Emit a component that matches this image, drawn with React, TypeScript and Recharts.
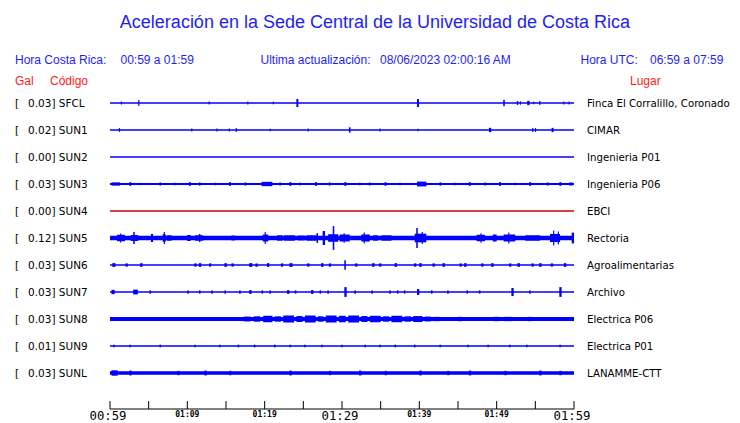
import { ComposedChart, Line, ReferenceArea, XAxis, YAxis } from 'recharts'

// ─── Datos ────────────────────────────────────────────────────────────────────

const STATIONS = ['SFCL', 'SUN1', 'SUN2', 'SUN3', 'SUN4', 'SUN5', 'SUN6', 'SUN7', 'SUN8', 'SUN9', 'SUNL']
const GAL = ['0.03', '0.02', '0.00', '0.03', '0.00', '0.12', '0.03', '0.03', '0.03', '0.01', '0.03']
const PLACES = [
  'Finca El Corralillo, Coronado',
  'CIMAR',
  'Ingenieria P01',
  'Ingenieria P06',
  'EBCI',
  'Rectoria',
  'Agroalimentarias',
  'Archivo',
  'Electrica P06',
  'Electrica P01',
  'LANAMME-CTT',
]

// minutos desde 00:59
const TICK_MINUTES = [0, 5, 10, 15, 20, 25, 30, 35, 40, 45, 50, 55, 60]
const LABEL_MINUTES = [0, 10, 20, 30, 40, 50, 60]
const LABEL_TEXT = ['00:59', '01:09', '01:19', '01:29', '01:39', '01:49', '01:59']
const MAJOR_LABELS = ['00:59', '01:29', '01:59']

// ráfagas: [inicio (min), fin (min), amplitud (filas)]
type Burst = [number, number, number]

const SFCL_BURSTS: Burst[] = [
  [1.4, 1.55, 0.06], [3.65, 3.8, 0.11], [12.75, 12.9, 0.06], [17.75, 17.9, 0.06], [21.05, 21.2, 0.05],
  [24.1, 24.35, 0.15], [39.7, 39.95, 0.15], [50.85, 51.05, 0.12], [52.6, 52.8, 0.07], [53.0, 53.15, 0.06],
  [53.95, 54.25, 0.08], [54.7, 54.85, 0.05], [55.5, 55.65, 0.07], [58.6, 58.75, 0.06], [59.3, 59.45, 0.06],
]
const SUN1_BURSTS: Burst[] = [
  [1.15, 1.3, 0.07], [10.5, 10.65, 0.06], [13.75, 13.9, 0.06], [15.35, 15.5, 0.06], [16.25, 16.4, 0.07],
  [20.65, 20.8, 0.05], [25.55, 25.7, 0.06], [30.9, 31.1, 0.1], [34.85, 35.0, 0.06], [39.75, 39.9, 0.05],
  [49.0, 49.3, 0.08], [54.6, 54.75, 0.07], [54.95, 55.1, 0.07], [57.1, 57.35, 0.08],
]
const SUN2_BURSTS: Burst[] = []
const SUN3_BURSTS: Burst[] = [
  [0.2, 1.3, 0.06], [2.5, 2.75, 0.07], [3.85, 4.0, 0.05], [6.4, 6.6, 0.06], [8.3, 8.5, 0.05],
  [10.2, 10.45, 0.07], [11.5, 11.7, 0.06], [13.5, 13.7, 0.05], [15.4, 15.65, 0.07], [17.4, 17.6, 0.06],
  [19.6, 21.0, 0.08], [21.9, 22.1, 0.06], [23.2, 23.45, 0.07], [24.5, 24.7, 0.05], [26.5, 26.75, 0.07],
  [28.3, 28.5, 0.06], [30.3, 30.55, 0.07], [32.2, 32.4, 0.05], [33.5, 33.7, 0.06], [35.5, 35.75, 0.07],
  [37.4, 37.6, 0.05], [39.7, 40.9, 0.09], [42.6, 42.85, 0.06], [44.5, 44.7, 0.05], [46.4, 46.65, 0.07],
  [48.4, 48.6, 0.06], [50.3, 50.55, 0.07], [52.3, 52.5, 0.05], [54.2, 54.45, 0.07], [56.5, 56.7, 0.06],
  [58.1, 58.35, 0.07], [59.4, 59.8, 0.06],
]
const SUN4_BURSTS: Burst[] = []
const SUN5_BURSTS: Burst[] = [
  [0.9, 1.94, 0.12], [1.3, 1.45, 0.17], [2.68, 3.66, 0.11], [3.0, 3.2, 0.22], [5.3, 5.56, 0.15],
  [6.81, 7.2, 0.14], [6.95, 7.1, 0.22], [7.33, 7.98, 0.1], [9.96, 10.43, 0.11], [10.99, 12.06, 0.1],
  [11.5, 11.7, 0.15], [12.4, 12.6, 0.07], [15.7, 16.16, 0.09], [17.1, 17.3, 0.06], [19.74, 20.47, 0.13],
  [20.0, 20.15, 0.22], [21.0, 21.2, 0.07], [21.6, 22.33, 0.1], [22.5, 23.9, 0.1], [24.3, 25.2, 0.09],
  [25.4, 26.7, 0.1], [26.7, 26.9, 0.18], [27.5, 27.8, 0.26], [28.2, 29.5, 0.14], [28.8, 29.0, 0.44],
  [29.7, 31.0, 0.13], [30.2, 30.35, 0.18], [32.5, 33.6, 0.13], [32.8, 32.95, 0.2], [34.0, 34.65, 0.1],
  [35.1, 36.4, 0.1], [37.7, 37.9, 0.07], [38.4, 38.8, 0.075], [39.4, 40.9, 0.16], [39.6, 39.8, 0.37],
  [40.3, 40.45, 0.22], [46.1, 46.5, 0.075], [47.4, 48.5, 0.12], [47.9, 48.05, 0.18], [49.5, 50.0, 0.13],
  [50.9, 52.4, 0.13], [51.5, 51.65, 0.2], [53.7, 55.6, 0.1], [56.9, 58.2, 0.15], [57.3, 57.45, 0.28],
  [57.9, 58.05, 0.24], [59.7, 60.0, 0.2],
]
const SUN6_BURSTS: Burst[] = [
  [0.3, 0.7, 0.07], [2.0, 2.3, 0.06], [3.9, 4.2, 0.07], [10.9, 11.2, 0.06], [11.5, 11.8, 0.07],
  [12.8, 13.1, 0.06], [14.8, 15.1, 0.07], [15.7, 16.0, 0.06], [18.0, 18.4, 0.07], [18.8, 19.1, 0.06],
  [20.3, 20.6, 0.07], [22.1, 22.4, 0.06], [23.2, 23.6, 0.07], [25.5, 25.8, 0.06], [27.3, 27.6, 0.07],
  [28.3, 28.6, 0.06], [30.3, 30.5, 0.18], [31.7, 32.0, 0.06], [33.9, 34.2, 0.07], [34.8, 35.1, 0.06],
  [36.8, 37.1, 0.07], [39.3, 39.6, 0.06], [40.0, 40.3, 0.07], [41.7, 42.0, 0.06], [43.0, 43.3, 0.07],
  [45.2, 45.5, 0.06], [45.8, 46.1, 0.07], [48.0, 48.3, 0.06], [49.3, 49.6, 0.07], [51.6, 51.9, 0.06],
  [52.7, 53.0, 0.07], [54.5, 54.8, 0.06], [55.5, 55.8, 0.07], [57.0, 57.3, 0.06], [58.7, 59.0, 0.07],
]
const SUN7_BURSTS: Burst[] = [
  [0.2, 0.6, 0.08], [3.0, 3.6, 0.09], [5.1, 5.3, 0.06], [10.0, 10.2, 0.06], [11.5, 11.7, 0.06],
  [13.1, 13.3, 0.06], [14.8, 15.0, 0.06], [16.7, 16.9, 0.06], [18.0, 18.3, 0.07], [19.6, 19.8, 0.06],
  [20.6, 20.8, 0.06], [22.9, 23.2, 0.07], [23.9, 24.1, 0.06], [26.0, 26.3, 0.07], [27.1, 27.3, 0.06],
  [28.1, 28.3, 0.06], [30.3, 30.6, 0.18], [31.6, 31.8, 0.06], [33.8, 34.0, 0.06], [36.1, 36.3, 0.06],
  [37.1, 37.3, 0.06], [38.0, 38.2, 0.06], [39.7, 40.0, 0.11], [41.5, 41.7, 0.06], [43.6, 43.8, 0.06],
  [46.1, 46.3, 0.06], [47.7, 47.9, 0.06], [51.9, 52.2, 0.15], [54.2, 54.4, 0.06], [58.1, 58.4, 0.18],
]
const SUN8_BURSTS: Burst[] = [
  [17.3, 18.2, 0.09], [18.6, 19.4, 0.1], [19.8, 21.0, 0.12], [21.3, 22.1, 0.1], [22.4, 23.8, 0.13],
  [24.1, 24.9, 0.11], [25.2, 26.6, 0.13], [26.9, 27.6, 0.1], [27.9, 29.3, 0.13], [29.6, 30.5, 0.12],
  [30.8, 32.2, 0.13], [32.5, 33.3, 0.11], [33.6, 35.0, 0.12], [35.3, 36.1, 0.1], [36.4, 37.8, 0.12],
  [38.1, 38.9, 0.1], [39.2, 40.4, 0.11], [40.7, 41.5, 0.09], [41.8, 42.7, 0.08], [45.0, 45.6, 0.08],
  [49.6, 50.3, 0.08], [51.0, 52.0, 0.08], [54.0, 54.6, 0.08],
]
const SUN9_BURSTS: Burst[] = [
  [0.4, 0.6, 0.05], [2.5, 2.7, 0.05], [6.4, 6.6, 0.05], [10.9, 11.1, 0.05], [14.1, 14.3, 0.05],
  [16.5, 16.7, 0.05], [18.6, 18.8, 0.05], [21.2, 21.4, 0.05], [23.2, 23.4, 0.05], [25.1, 25.3, 0.05],
  [27.3, 27.5, 0.05], [29.9, 30.1, 0.05], [32.9, 33.1, 0.05], [34.8, 35.0, 0.05], [36.8, 37.0, 0.05],
  [39.3, 39.5, 0.05], [42.6, 42.8, 0.05], [46.2, 46.4, 0.05], [48.8, 49.0, 0.05], [51.6, 51.8, 0.05],
  [53.8, 54.0, 0.05], [58.1, 58.3, 0.05],
]
const SUNL_BURSTS: Burst[] = [
  [0.2, 1.0, 0.1], [2.5, 2.8, 0.09], [8.7, 9.0, 0.08], [12.2, 12.5, 0.09], [15.4, 15.7, 0.08],
  [23.2, 23.5, 0.09], [28.3, 28.6, 0.08], [32.2, 32.5, 0.09], [35.5, 35.8, 0.08], [40.0, 40.3, 0.09],
  [43.6, 43.9, 0.08], [46.4, 46.7, 0.09], [51.0, 51.3, 0.08], [55.5, 55.8, 0.09], [58.1, 58.4, 0.08],
]

const BURSTS = [
  SFCL_BURSTS, SUN1_BURSTS, SUN2_BURSTS, SUN3_BURSTS, SUN4_BURSTS, SUN5_BURSTS,
  SUN6_BURSTS, SUN7_BURSTS, SUN8_BURSTS, SUN9_BURSTS, SUNL_BURSTS,
]

// ─── Estilos ──────────────────────────────────────────────────────────────────

const BLUE_TEXT = '#1e1ef0'
const RED_TEXT = '#ff1a1a'
const TRACE_COLOR: Record<string, string> = { SUN4: '#cc0000' }
const TRACE_WIDTH: Record<string, number> = { SUN3: 1.8, SUN5: 4.5, SUN8: 4, SUNL: 3.5 }
const ROWS = STATIONS.map((_, i) => i)

function traceColor(station: string): string {
  return TRACE_COLOR[station] ?? '#0000ff'
}

// ─── Ticks ────────────────────────────────────────────────────────────────────

function TimeTick({ x, y, payload }: any) {
  const idx = LABEL_MINUTES.indexOf(payload.value)
  const label = idx >= 0 ? LABEL_TEXT[idx] : null
  const major = label !== null && MAJOR_LABELS.includes(label)
  return (
    <g>
      <line x1={x} y1={y - 8} x2={x} y2={y} stroke="#000" />
      {label && (
        <text
          x={x - (major ? 2 : 0)}
          y={major ? y + 10.5 : y + 8}
          textAnchor="middle"
          fontFamily="'DejaVu Sans Mono', monospace"
          fontSize={major ? 12.3 : 8}
          fontWeight={major ? 'normal' : 'bold'}
          fill="#000"
        >
          {label}
        </text>
      )}
    </g>
  )
}

function StationTick({ y, payload }: any) {
  const i = payload.value
  return (
    <g fontFamily="'DejaVu Sans', sans-serif" fontSize={10.5} fill="#000">
      <text x={15} y={y + 4}>[</text>
      <text x={28} y={y + 4}>{`${GAL[i]}] ${STATIONS[i]}`}</text>
    </g>
  )
}

function PlaceTick({ y, payload }: any) {
  return (
    <text x={587} y={y + 4} fontFamily="'DejaVu Sans', sans-serif" fontSize={10.2} fill="#000">
      {PLACES[payload.value]}
    </text>
  )
}

// ─── Componente ───────────────────────────────────────────────────────────────

const head = (left: number, top: number, color: string, size = 12): React.CSSProperties => ({
  position: 'absolute',
  left,
  top,
  color,
  fontSize: size,
  lineHeight: 1,
  whiteSpace: 'pre',
})

export default function App() {
  return (
    <div
      style={{
        position: 'absolute',
        left: 0,
        top: 0,
        width: 740,
        height: 423,
        background: '#fff',
        fontFamily: "'Liberation Sans', Arial, sans-serif",
      }}
    >
      <ComposedChart
        width={740}
        height={423}
        margin={{ top: 89.5, right: 6, bottom: 0, left: 10 }}
        style={{ position: 'absolute', left: 0, top: 0 }}
      >
        <XAxis
          type="number"
          dataKey="t"
          domain={[0, 60]}
          ticks={TICK_MINUTES}
          interval={0}
          allowDataOverflow
          height={14}
          tickSize={0}
          tickMargin={0}
          tickLine={false}
          axisLine={{ stroke: '#000' }}
          tick={<TimeTick />}
        />
        <YAxis
          yAxisId="left"
          type="number"
          domain={[-0.5, 11.333]}
          reversed
          allowDataOverflow
          ticks={ROWS}
          interval={0}
          width={100}
          axisLine={false}
          tickLine={false}
          tick={<StationTick />}
        />
        <YAxis
          yAxisId="right"
          orientation="right"
          type="number"
          domain={[-0.5, 11.333]}
          reversed
          allowDataOverflow
          ticks={ROWS}
          interval={0}
          width={160}
          axisLine={false}
          tickLine={false}
          tick={<PlaceTick />}
        />

        {STATIONS.map((station, i) => (
          <Line
            key={station}
            yAxisId="left"
            data={[
              { t: 0, v: i },
              { t: 60, v: i },
            ]}
            dataKey="v"
            stroke={traceColor(station)}
            strokeWidth={TRACE_WIDTH[station] ?? 1.3}
            dot={false}
            activeDot={false}
            isAnimationActive={false}
          />
        ))}

        {STATIONS.flatMap((station, i) =>
          BURSTS[i].map(([t0, t1, a], k) => (
            <ReferenceArea
              key={`${station}-${k}`}
              yAxisId="left"
              x1={t0}
              x2={t1}
              y1={i - a}
              y2={i + a}
              fill={traceColor(station)}
              fillOpacity={1}
              stroke="none"
              ifOverflow="visible"
            />
          )),
        )}
      </ComposedChart>

      <div style={{ ...head(0, 12.8, BLUE_TEXT, 18), width: 750, textAlign: 'center' }}>
        Aceleración en la Sede Central de la Universidad de Costa Rica
      </div>
      <div style={head(15, 54, BLUE_TEXT)}>Hora Costa Rica:</div>
      <div style={head(120.5, 54, BLUE_TEXT)}>00:59 a 01:59</div>
      <div style={head(260.5, 54, BLUE_TEXT)}>Ultima actualización:</div>
      <div style={head(380, 54, BLUE_TEXT)}>08/06/2023 02:00:16 AM</div>
      <div style={head(580.5, 54, BLUE_TEXT)}>Hora UTC:</div>
      <div style={head(650, 54, BLUE_TEXT)}>06:59 a 07:59</div>
      <div style={head(15, 75, RED_TEXT)}>Gal</div>
      <div style={head(50, 75, RED_TEXT)}>Código</div>
      <div style={head(630, 75, RED_TEXT)}>Lugar</div>
    </div>
  )
}
